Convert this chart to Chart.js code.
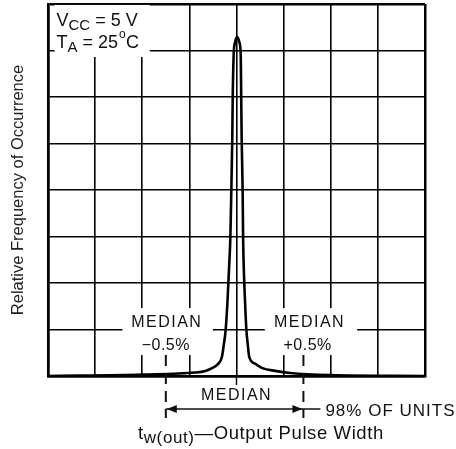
<!DOCTYPE html>
<html>
<head>
<meta charset="utf-8">
<script src="https://cdn.jsdelivr.net/npm/chart.js@4/dist/chart.umd.min.js"></script>
<style>
  html, body { margin: 0; padding: 0; background: #fff; }
  canvas { display: block; }
</style>
</head>
<body>
<canvas id="chart" width="456" height="449"></canvas>
<script>
// distribution curve, in grid units (x: 0..8 divisions, median at 4)
const pulseWidth = [0, 2.02, 3.12, 3.34, 3.48, 3.61, 3.69, 3.73, 3.77, 3.81, 3.85, 3.87, 3.89, 3.91, 3.92, 3.94, 3.97, 4.02,
                    4.06, 4.09, 4.10, 4.11, 4.13, 4.14, 4.15, 4.18, 4.21, 4.24, 4.27, 4.40, 4.55, 4.82, 5.14, 5.99, 8];
const frequency = [0, 0.03, 0.075, 0.11, 0.17, 0.26, 0.41, 0.67, 0.99, 1.63, 2.49, 2.99, 4.0, 5.08, 6.0, 6.9, 7.18, 7.29,
                   7.18, 6.9, 6.0, 5.08, 4.0, 2.99, 2.49, 1.63, 0.99, 0.67, 0.41, 0.26, 0.17, 0.11, 0.065, 0.02, 0];

const xMin = 0, xMax = 8, yMin = 0, yMax = 8;
const medianX = 4;
const minusHalfX = 2.5;   // MEDIAN -0.5%
const plusHalfX = 5.42;   // MEDIAN +0.5%

const FONT = '"Liberation Sans", Arial, Helvetica, sans-serif';
const INK = '#111';

// white patches where the labels break the grid (grid units)
const labelBoxes = [
    { x0: 0.14, x1: 2.16, y0: 6.86, y1: 7.98 },
    { x0: 1.58, x1: 3.5, y0: 0.45, y1: 1.46 },
    { x0: 4.6, x1: 6.56, y0: 0.45, y1: 1.46 }
];

const points = pulseWidth.map((x, i) => ({ x: x, y: frequency[i] }));

// draws "main" then a lowered smaller "sub", returns new x
function withSub(ctx, x, y, main, sub, big, small, drop) {
    ctx.font = big + 'px ' + FONT;
    ctx.fillText(main, x, y);
    x += ctx.measureText(main).width;
    ctx.font = small + 'px ' + FONT;
    ctx.fillText(sub, x, y + drop);
    x += ctx.measureText(sub).width;
    ctx.font = big + 'px ' + FONT;
    return x;
}

const annotations = {
    id: 'annotations',
    beforeDatasetsDraw(chart) {
        const { ctx, scales: { x, y } } = chart;
        ctx.save();
        ctx.fillStyle = '#fff';
        labelBoxes.forEach(b => {
            const px0 = x.getPixelForValue(b.x0), px1 = x.getPixelForValue(b.x1);
            const py0 = y.getPixelForValue(b.y1), py1 = y.getPixelForValue(b.y0);
            ctx.fillRect(px0, py0, px1 - px0, py1 - py0);
        });
        ctx.restore();
    },
    afterDraw(chart) {
        const { ctx, chartArea, scales: { x, y } } = chart;
        const bottom = chartArea.bottom;
        ctx.save();
        ctx.fillStyle = INK;
        ctx.strokeStyle = INK;
        ctx.textBaseline = 'alphabetic';

        // conditions box
        ctx.textAlign = 'left';
        const tx = x.getPixelForValue(0.18);
        let cx = withSub(ctx, tx, 26, 'V', 'CC', 18, 15, 4);
        ctx.fillText(' = 5 V', cx, 26);

        cx = withSub(ctx, tx, 48, 'T', 'A', 18, 15, 4);
        ctx.fillText(' = 25', cx, 48);
        cx += ctx.measureText(' = 25').width;
        ctx.font = '12px ' + FONT;
        ctx.fillText('o', cx + 1, 38);
        ctx.font = '18px ' + FONT;
        ctx.fillText('C', cx + 8, 48);

        // median labels
        ctx.textAlign = 'center';
        ctx.font = '16px ' + FONT;
        ctx.letterSpacing = '1.5px';
        const yTop = y.getPixelForValue(1.05);
        ctx.fillText('MEDIAN', x.getPixelForValue(2.52), yTop);
        ctx.fillText('MEDIAN', x.getPixelForValue(5.55), yTop);
        ctx.fillText('MEDIAN', x.getPixelForValue(medianX), bottom + 24);
        ctx.letterSpacing = '0.5px';
        const yLow = y.getPixelForValue(0.56);
        ctx.fillText('\u22120.5%', x.getPixelForValue(2.5), yLow);
        ctx.fillText('+0.5%', x.getPixelForValue(5.51), yLow);
        ctx.letterSpacing = '0px';

        // median tick below the frame
        const mx = x.getPixelForValue(medianX);
        ctx.lineWidth = 1.5;
        ctx.beginPath();
        ctx.moveTo(mx, bottom);
        ctx.lineTo(mx, bottom + 9);
        ctx.stroke();

        // dashed limits
        const lx = x.getPixelForValue(minusHalfX);
        const rx = x.getPixelForValue(plusHalfX);
        const dashTop = y.getPixelForValue(0.45);
        const arrowY = bottom + 33;
        ctx.lineWidth = 2;
        ctx.setLineDash([11, 7]);
        [lx, rx].forEach(px => {
            ctx.beginPath();
            ctx.moveTo(px, dashTop);
            ctx.lineTo(px, arrowY + 9);
            ctx.stroke();
        });
        ctx.setLineDash([]);

        // arrow
        ctx.lineWidth = 1.5;
        ctx.beginPath();
        ctx.moveTo(lx, arrowY);
        ctx.lineTo(rx + 17, arrowY);
        ctx.stroke();
        const head = (tip, dir) => {
            ctx.beginPath();
            ctx.moveTo(tip, arrowY);
            ctx.lineTo(tip - dir * 10, arrowY - 4);
            ctx.lineTo(tip - dir * 10, arrowY + 4);
            ctx.closePath();
            ctx.fill();
        };
        head(lx + 1, -1);
        head(rx - 1, 1);

        ctx.textAlign = 'left';
        ctx.font = '17px ' + FONT;
        ctx.letterSpacing = '1px';
        ctx.fillText('98% OF UNITS', rx + 22, arrowY + 7);

        // x axis title with subscript
        ctx.letterSpacing = '0.6px';
        const ay = bottom + 63;
        const ax = withSub(ctx, 138, ay, 't', 'w(out)', 18.5, 17, 4);
        ctx.fillText('\u2014Output Pulse Width', ax, ay);
        ctx.letterSpacing = '0px';

        // y axis title
        ctx.save();
        ctx.translate(23, (chartArea.top + chartArea.bottom) / 2);
        ctx.rotate(-Math.PI / 2);
        ctx.textAlign = 'center';
        ctx.font = '16.5px ' + FONT;
        ctx.fillStyle = '#222';
        ctx.fillText('Relative Frequency of Occurrence', 0, 0);
        ctx.restore();

        ctx.restore();
    }
};

const edgeWidth = c => (c.tick && (c.tick.value === 0 || c.tick.value === 8)) ? 2.5 : 1.6;

new Chart(document.getElementById('chart'), {
    type: 'line',
    data: {
        datasets: [{
            data: points,
            borderColor: '#000',
            borderWidth: 2.6,
            pointRadius: 0,
            fill: false,
            cubicInterpolationMode: 'monotone'
        }]
    },
    options: {
        responsive: false,
        animation: false,
        layout: { padding: { left: 48, right: 31, top: 4, bottom: 73 } },
        plugins: { legend: { display: false }, tooltip: { enabled: false } },
        scales: {
            x: {
                type: 'linear', min: xMin, max: xMax,
                ticks: { display: false, stepSize: 1 },
                grid: { color: '#000', lineWidth: edgeWidth, drawTicks: false },
                border: { display: true, color: '#000', width: 2.5 }
            },
            y: {
                type: 'linear', min: yMin, max: yMax,
                ticks: { display: false, stepSize: 1 },
                grid: { color: '#000', lineWidth: edgeWidth, drawTicks: false },
                border: { display: true, color: '#000', width: 2.5 }
            }
        }
    },
    plugins: [annotations]
});
</script>
</body>
</html>
